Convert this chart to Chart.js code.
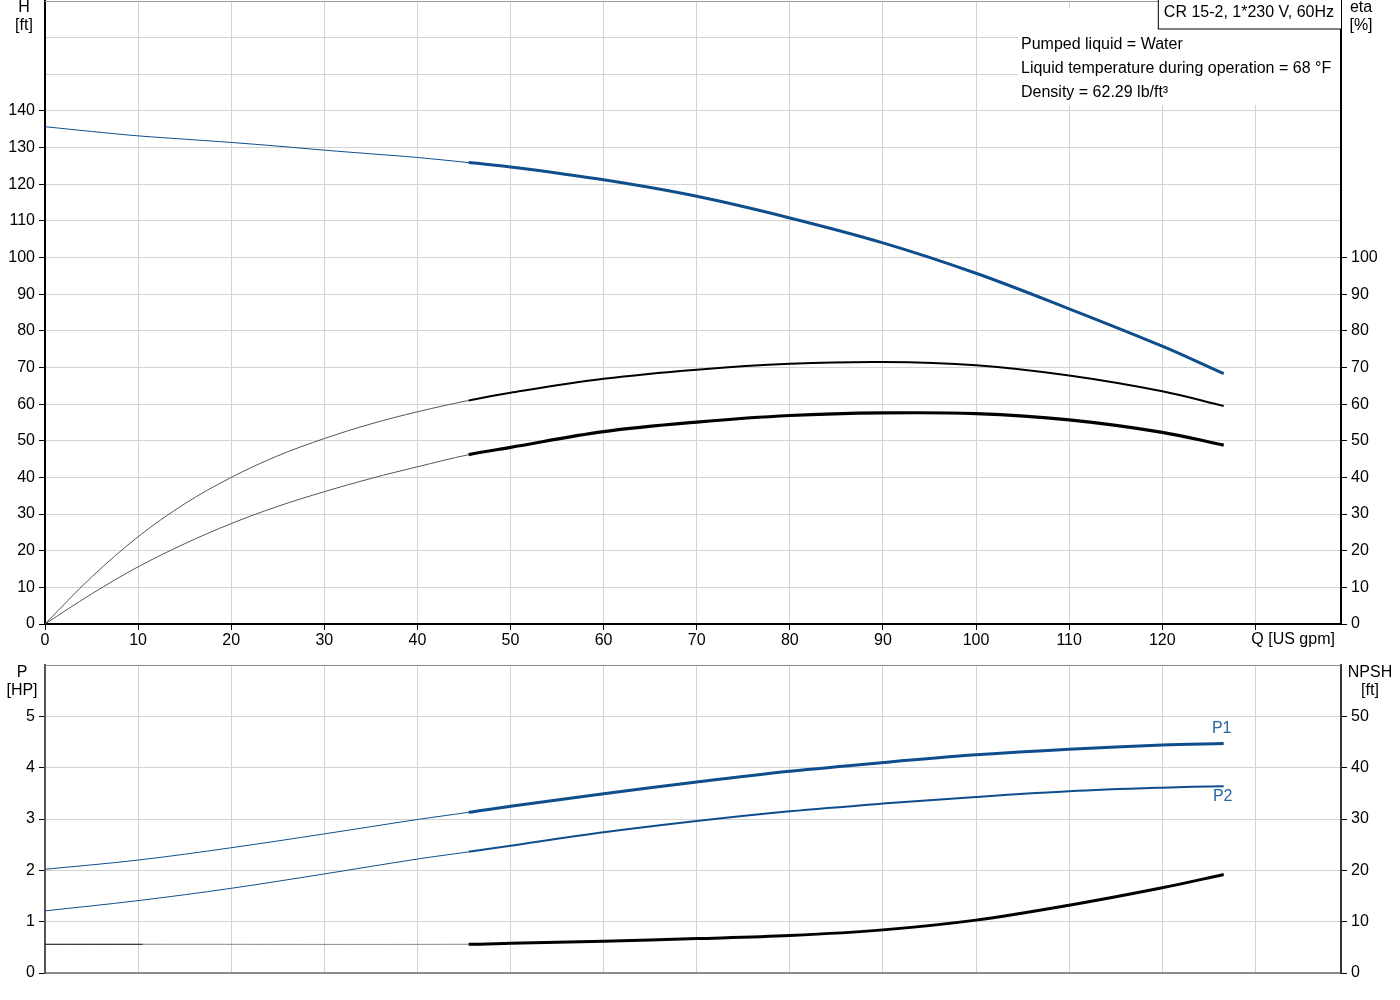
<!DOCTYPE html>
<html>
<head>
<meta charset="utf-8">
<script src="https://cdn.jsdelivr.net/npm/chart.js@4.4.1/dist/chart.umd.min.js"></script>
<style>
  html, body { margin: 0; padding: 0; background: #fff; }
  #wrap { position: relative; width: 1400px; height: 1000px; }
  #topBox { position: absolute; left: 0; top: 0; width: 1400px; height: 655px; }
  #bottomBox { position: absolute; left: 0; top: 655px; width: 1400px; height: 345px; }
</style>
</head>
<body>
<div id="wrap">
  <div id="topBox"><canvas id="curveChart"></canvas></div>
  <div id="bottomBox"><canvas id="powerChart"></canvas></div>
</div>
<script>
// flow [US gpm] and values
const flowTop = [0, 5, 10, 15, 20, 25, 30, 35, 40, 45.5, 50, 60, 70, 80, 90, 100, 110, 120, 126.6];
const head = [135.7, 134.4, 133.2, 132.3, 131.4, 130.4, 129.3, 128.3, 127.3, 125.9, 124.7, 121.2, 116.7, 110.8, 104.0, 95.7, 86.0, 75.8, 68.3];
const etaPump = [0, 12.8, 23.8, 32.8, 40.0, 45.9, 50.6, 54.6, 57.9, 61.0, 63.1, 66.9, 69.4, 71.0, 71.5, 70.6, 67.8, 63.5, 59.5];
const etaTotal = [0, 8.2, 15.6, 21.9, 27.4, 32.1, 36.1, 39.7, 42.9, 46.2, 48.2, 52.5, 55.1, 56.9, 57.6, 57.4, 55.7, 52.3, 48.8];

const flowPower = [0, 10, 20, 30, 40, 45.5, 50, 60, 70, 80, 90, 100, 110, 120, 126.6];
const powerP1 = [2.02, 2.20, 2.44, 2.71, 2.99, 3.13, 3.25, 3.49, 3.72, 3.93, 4.10, 4.25, 4.36, 4.44, 4.47];
const powerP2 = [1.21, 1.41, 1.65, 1.93, 2.22, 2.36, 2.48, 2.74, 2.96, 3.15, 3.30, 3.43, 3.54, 3.61, 3.64];

const flowNpsh = [0, 10.5, 45.5, 50, 60, 70, 80, 90, 100, 110, 120, 126.6];
const npsh = [5.6, 5.6, 5.6, 5.8, 6.2, 6.7, 7.3, 8.4, 10.3, 13.2, 16.6, 19.2];

const pumpTitle = 'CR 15-2, 1*230 V, 60Hz';
const infoLines = ['Pumped liquid = Water', 'Liquid temperature during operation = 68 \u00b0F', 'Density = 62.29 lb/ft\u00b3'];

const flowMax = 139.2;
const flowUnitTick = 130;
const headMax = 170, headLabelMax = 140, etaLabelMax = 100;
const powerMax = 6, powerLabelMax = 5, npshMax = 60, npshLabelMax = 50;
const opStart = 45.5; // start of the recommended (thick) range

const BLUE = '#0f4e8c';
const GRID = '#d3d3d3';
const FONT_FAMILY = '"Liberation Sans", Arial, sans-serif';
const FONT = '16px ' + FONT_FAMILY;

const pts = (xs, ys) => xs.map((x, i) => ({ x: x, y: ys[i] }));
const inRange = ctx => ctx.p0.parsed.x >= opStart - 0.01;

function curve(data, axis, color, thin, thick, thinColor) {
  return {
    data: data,
    yAxisID: axis,
    borderColor: color,
    borderWidth: thick,
    pointRadius: 0,
    fill: false,
    tension: 0.35,
    segment: {
      borderWidth: ctx => inRange(ctx) ? thick : thin,
      borderColor: ctx => inRange(ctx) ? color : (thinColor || color)
    }
  };
}

const hideAbove = lim => ctx => (ctx.tick && ctx.tick.value > lim) ? 'rgba(0,0,0,0)' : '#000';
// fixed axis sizes, no extra room for half labels
const fixWidth = w => scale => { scale.width = w; scale.paddingTop = 0; scale.paddingBottom = 0; };
const fixHeight = h => scale => { scale.height = h; scale.paddingLeft = 0; scale.paddingRight = 0; };

const topTexts = {
  id: 'topTexts',
  afterDraw(chart) {
    const { ctx, chartArea: a, scales } = chart;
    ctx.save();
    ctx.strokeStyle = '#999';
    ctx.lineWidth = 1;
    ctx.beginPath();
    ctx.moveTo(a.left, a.top + 0.5);
    ctx.lineTo(a.right, a.top + 0.5);
    ctx.stroke();

    ctx.font = FONT;
    ctx.fillStyle = '#000';
    ctx.textBaseline = 'middle';
    ctx.textAlign = 'center';
    ctx.fillText('H', a.left - 21, a.top + 7);
    ctx.fillText('[ft]', a.left - 21, a.top + 25);
    ctx.fillText('eta', a.right + 20, a.top + 7);
    ctx.fillText('[%]', a.right + 20, a.top + 25);

    ctx.textAlign = 'left';
    ctx.fillText('Q [US gpm]', scales.x.getPixelForValue(flowUnitTick) - 4, a.bottom + 16);

    // info area
    ctx.fillStyle = '#fff';
    ctx.fillRect(a.right - 323, a.top + 7, 322, 97);
    const w = ctx.measureText(pumpTitle).width + 13;
    ctx.fillRect(a.right - w, 0, w, 29);
    ctx.strokeStyle = '#000';
    ctx.strokeRect(a.right - w + 0.5, -1, w, 30);
    ctx.fillStyle = '#000';
    ctx.fillText(pumpTitle, a.right - w + 6, 13);
    infoLines.forEach((t, i) => ctx.fillText(t, a.right - 320, 45 + i * 24));
    ctx.restore();
  }
};

const bottomTexts = {
  id: 'bottomTexts',
  afterDraw(chart) {
    const { ctx, chartArea: a, scales } = chart;
    ctx.save();
    ctx.strokeStyle = '#8a8a8a';
    ctx.lineWidth = 1;
    ctx.beginPath();
    ctx.moveTo(a.left, a.top + 0.5);
    ctx.lineTo(a.right, a.top + 0.5);
    ctx.stroke();

    ctx.font = FONT;
    ctx.fillStyle = '#000';
    ctx.textBaseline = 'middle';
    ctx.textAlign = 'center';
    ctx.fillText('P', a.left - 23, a.top + 8);
    ctx.fillText('[HP]', a.left - 23, a.top + 26);
    ctx.fillText('NPSH', a.right + 29, a.top + 8);
    ctx.fillText('[ft]', a.right + 29, a.top + 26);

    const n = flowPower.length - 1;
    const xEnd = scales.x.getPixelForValue(flowPower[n]);
    ctx.fillStyle = '#2a64a0';
    ctx.fillText('P1', xEnd - 2, scales.y.getPixelForValue(powerP1[n]) - 15);
    ctx.fillText('P2', xEnd - 1, scales.y.getPixelForValue(powerP2[n]) + 10);
    ctx.restore();
  }
};

const tickFont = { family: FONT_FAMILY, size: 16 };

new Chart(document.getElementById('curveChart'), {
  type: 'line',
  data: {
    datasets: [
      curve(pts(flowTop, head), 'y', BLUE, 1, 3),
      curve(pts(flowTop, etaPump), 'y2', '#000', 1, 2, '#555'),
      curve(pts(flowTop, etaTotal), 'y2', '#000', 1, 3.2, '#555')
    ]
  },
  options: {
    responsive: true,
    maintainAspectRatio: false,
    animation: false,
    layout: { padding: { top: 1, left: 0, right: 0, bottom: 0 } },
    plugins: { legend: { display: false }, tooltip: { enabled: false } },
    scales: {
      x: {
        type: 'linear', min: 0, max: flowMax,
        afterFit: fixHeight(31),
        border: { color: '#000', width: 2 },
        grid: { color: GRID, lineWidth: 1, tickLength: 6, tickColor: '#000' },
        ticks: {
          stepSize: 10, includeBounds: false, maxRotation: 0, autoSkip: false,
          padding: 1, color: '#000', font: tickFont,
          callback: v => v === flowUnitTick ? '' : v
        }
      },
      y: {
        position: 'left', min: 0, max: headMax,
        afterFit: fixWidth(45),
        border: { color: '#000', width: 2 },
        grid: { color: GRID, lineWidth: 1, tickLength: 6, tickColor: hideAbove(headLabelMax) },
        ticks: {
          stepSize: 10, padding: 4, color: '#000', font: tickFont,
          callback: v => v > headLabelMax ? '' : v
        }
      },
      y2: {
        position: 'right', min: 0, max: headMax,
        afterFit: fixWidth(59),
        border: { color: '#000', width: 2 },
        grid: { drawOnChartArea: false, tickLength: 6, tickColor: hideAbove(etaLabelMax) },
        ticks: {
          stepSize: 10, padding: 4, color: '#000', font: tickFont,
          callback: v => v > etaLabelMax ? '' : v
        }
      }
    }
  },
  plugins: [topTexts]
});

new Chart(document.getElementById('powerChart'), {
  type: 'line',
  data: {
    datasets: [
      curve(pts(flowPower, powerP1), 'y', BLUE, 1, 3),
      curve(pts(flowPower, powerP2), 'y', BLUE, 1, 2),
      Object.assign(curve(pts(flowNpsh, npsh), 'y2', '#000', 1, 3), {
        segment: {
          borderWidth: ctx => inRange(ctx) ? 3 : 1,
          borderColor: ctx => inRange(ctx) ? '#000' : (ctx.p0.parsed.x < 10 ? '#000' : '#888')
        }
      })
    ]
  },
  options: {
    responsive: true,
    maintainAspectRatio: false,
    animation: false,
    layout: { padding: { top: 10, left: 0, right: 0, bottom: 0 } },
    plugins: { legend: { display: false }, tooltip: { enabled: false } },
    scales: {
      x: {
        type: 'linear', min: 0, max: flowMax,
        afterFit: fixHeight(27),
        border: { color: '#8a8a8a', width: 2 },
        grid: { color: GRID, lineWidth: 1, drawTicks: false },
        ticks: { stepSize: 10, includeBounds: false, display: false }
      },
      y: {
        position: 'left', min: 0, max: powerMax,
        afterFit: fixWidth(45),
        border: { color: '#555', width: 2 },
        grid: { color: GRID, lineWidth: 1, tickLength: 6, tickColor: hideAbove(powerLabelMax) },
        ticks: {
          stepSize: 1, padding: 4, color: '#000', font: tickFont,
          callback: v => v > powerLabelMax ? '' : v
        }
      },
      y2: {
        position: 'right', min: 0, max: npshMax,
        afterFit: fixWidth(59),
        border: { color: '#333', width: 2 },
        grid: { drawOnChartArea: false, tickLength: 6, tickColor: hideAbove(npshLabelMax) },
        ticks: {
          stepSize: 10, padding: 4, color: '#000', font: tickFont,
          callback: v => v > npshLabelMax ? '' : v
        }
      }
    }
  },
  plugins: [bottomTexts]
});
</script>
</body>
</html>
